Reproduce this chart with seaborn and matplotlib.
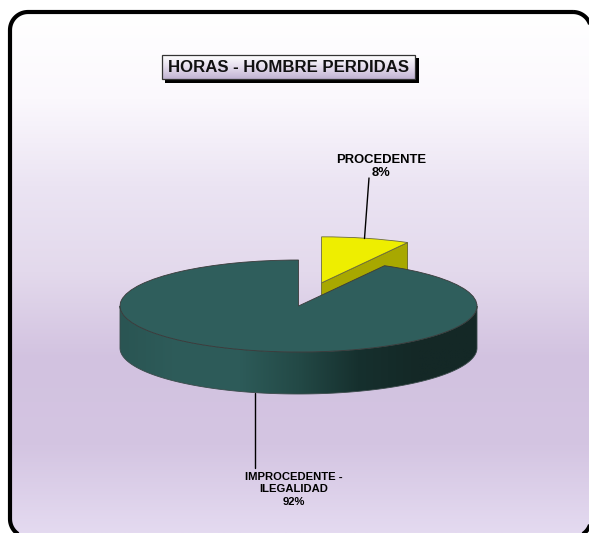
import numpy as np
import seaborn as sns
import matplotlib.pyplot as plt
from matplotlib.patches import Polygon, Rectangle

sns.set_theme(style='white')
plt.rcParams['font.family'] = ['Liberation Sans', 'DejaVu Sans']

title = 'HORAS - HOMBRE PERDIDAS'
labels = ['PROCEDENTE', 'IMPROCEDENTE -\nILEGALIDAD']
values = [8, 92]
percents = ['8%', '92%']
explode = [0.52, 0]

sliceColors = ['#eeee00', '#2f5e5c']
wallColors = ['#a8a800', '#2f5e5c']
sideGradient = ['#2a5553', '#2e5c5a', '#2d5b59', '#234946', '#16302e', '#142826', '#142826']
bgGradient = ['#ffffff', '#fbf8fd', '#ebe4f3', '#e3d9ec', '#d2c2e0', '#d4c5e2', '#e4daf0']
titleGradient = ['#ffffff', '#e4dcec', '#c2b4d4']

W, H = 589, 533
cx, cy = 298.5, 306   # pie centre in pixels
rx, ry = 178.5, 46    # ellipse radii in pixels
depth = 42 / ry


def roundedBox(x0, y0, x1, y1, r):
    corners = [(x1 - r, y0 + r, -90), (x1 - r, y1 - r, 0), (x0 + r, y1 - r, 90), (x0 + r, y0 + r, 180)]
    pts = []
    for ox, oy, start in corners:
        a = np.deg2rad(np.linspace(start, start + 90, 20))
        pts.append(np.column_stack([ox + r * np.cos(a), oy + r * np.sin(a)]))
    return np.vstack(pts)


fig = plt.figure(figsize=(W / 100, H / 100), dpi=100)

# background, frame and title live in pixel coordinates
axBg = fig.add_axes([0, 0, 1, 1], zorder=0)
frame = Polygon(roundedBox(10, 12, 591, 537, 18), closed=True,
                facecolor='none', edgecolor='black', linewidth=3, zorder=3)
axBg.add_patch(frame)
bg = axBg.imshow(np.linspace(0, 1, 256).reshape(-1, 1), extent=(0, W, H, 12), aspect='auto',
                 cmap=sns.blend_palette(bgGradient, as_cmap=True), zorder=1)
bg.set_clip_path(frame)
axBg.set_xlim(0, W)
axBg.set_ylim(H, 0)
axBg.axis('off')

# pie axes: one unit is rx pixels across and ry pixels down, which squashes the circle
axPie = fig.add_axes([0, 0, 1, 1], zorder=1)
axPie.patch.set_alpha(0)
wedges, _ = axPie.pie(values, explode=explode, startangle=90, counterclock=False,
                      colors=sliceColors, radius=1,
                      wedgeprops={'edgecolor': '#3a3a3a', 'linewidth': 0.6})

yellow, green = wedges
yellow.set_zorder(3)
green.set_zorder(6)
yellow.set_edgecolor('#6a6a40')

# cut face of the exploded slice, the one that faces the viewer
c = np.array(yellow.center)
angle = np.deg2rad(min(yellow.theta1, yellow.theta2) % 360)
rim = c + np.array([np.cos(angle), np.sin(angle)])
face = Polygon([c, rim, rim - [0, depth], c - [0, depth]], closed=True,
               facecolor=wallColors[0], edgecolor='#55551a', linewidth=0.5, zorder=2)
axPie.add_patch(face)

# outer wall of the big slice, front half only
t = np.linspace(np.pi, 2 * np.pi, 200)
top = np.column_stack([np.cos(t), np.sin(t)])
wall = Polygon(np.vstack([top, (top - [0, depth])[::-1]]), closed=True,
               facecolor='none', edgecolor='#3a4a4a', linewidth=0.6, zorder=5)
axPie.add_patch(wall)
side = axPie.imshow(np.linspace(0, 1, 256).reshape(1, -1), extent=(-1, 1, -1 - depth, 0),
                    aspect='auto', cmap=sns.blend_palette(sideGradient, as_cmap=True), zorder=4)
side.set_clip_path(wall)

axPie.set_aspect('auto')
axPie.set_position([0, 0, 1, 1])
axPie.set_xlim((0 - cx) / rx, (W - cx) / rx)
axPie.set_ylim((cy - H) / ry, cy / ry)

# leader lines and texts
px = axBg.transData
axPie.plot([369, 364.5], [178, 238.5], color='black', lw=1, transform=px, zorder=7)
axPie.plot([254.5, 254.5], [393, 468], color='black', lw=1, transform=px, zorder=3)

axPie.text(381, 166.5, labels[0] + '\n' + percents[0], transform=px, ha='center', va='center',
           fontsize=9.4, fontweight='bold', color='black', linespacing=1.1, zorder=8)
axPie.text(293.5, 489.5, labels[1] + '\n' + percents[1], transform=px, ha='center', va='center',
           fontsize=8.1, fontweight='bold', color='black', linespacing=1.3, zorder=8)

# title box with hard shadow
axPie.add_patch(Rectangle((165, 58), 254, 25, transform=px, facecolor='black',
                          edgecolor='none', zorder=9))
box = Rectangle((161.5, 55), 253, 24, transform=px, facecolor='none',
                edgecolor='#333333', linewidth=0.9, zorder=11)
axPie.add_patch(box)
tg = axPie.imshow(np.linspace(0, 1, 64).reshape(-1, 1), extent=(-1, 1, -1, 1), aspect='auto',
                  cmap=sns.blend_palette(titleGradient, as_cmap=True), zorder=10,
                  transform=px)
tg.set_extent((161.5, 414.5, 79, 55))
tg.set_clip_path(box)
axPie.text(288.5, 67.5, title, transform=px, ha='center', va='center',
           fontsize=12.1, fontweight='bold', color='#111111', zorder=12)

axPie.set_xlim((0 - cx) / rx, (W - cx) / rx)
axPie.set_ylim((cy - H) / ry, cy / ry)

plt.savefig('out.png', dpi=100)
